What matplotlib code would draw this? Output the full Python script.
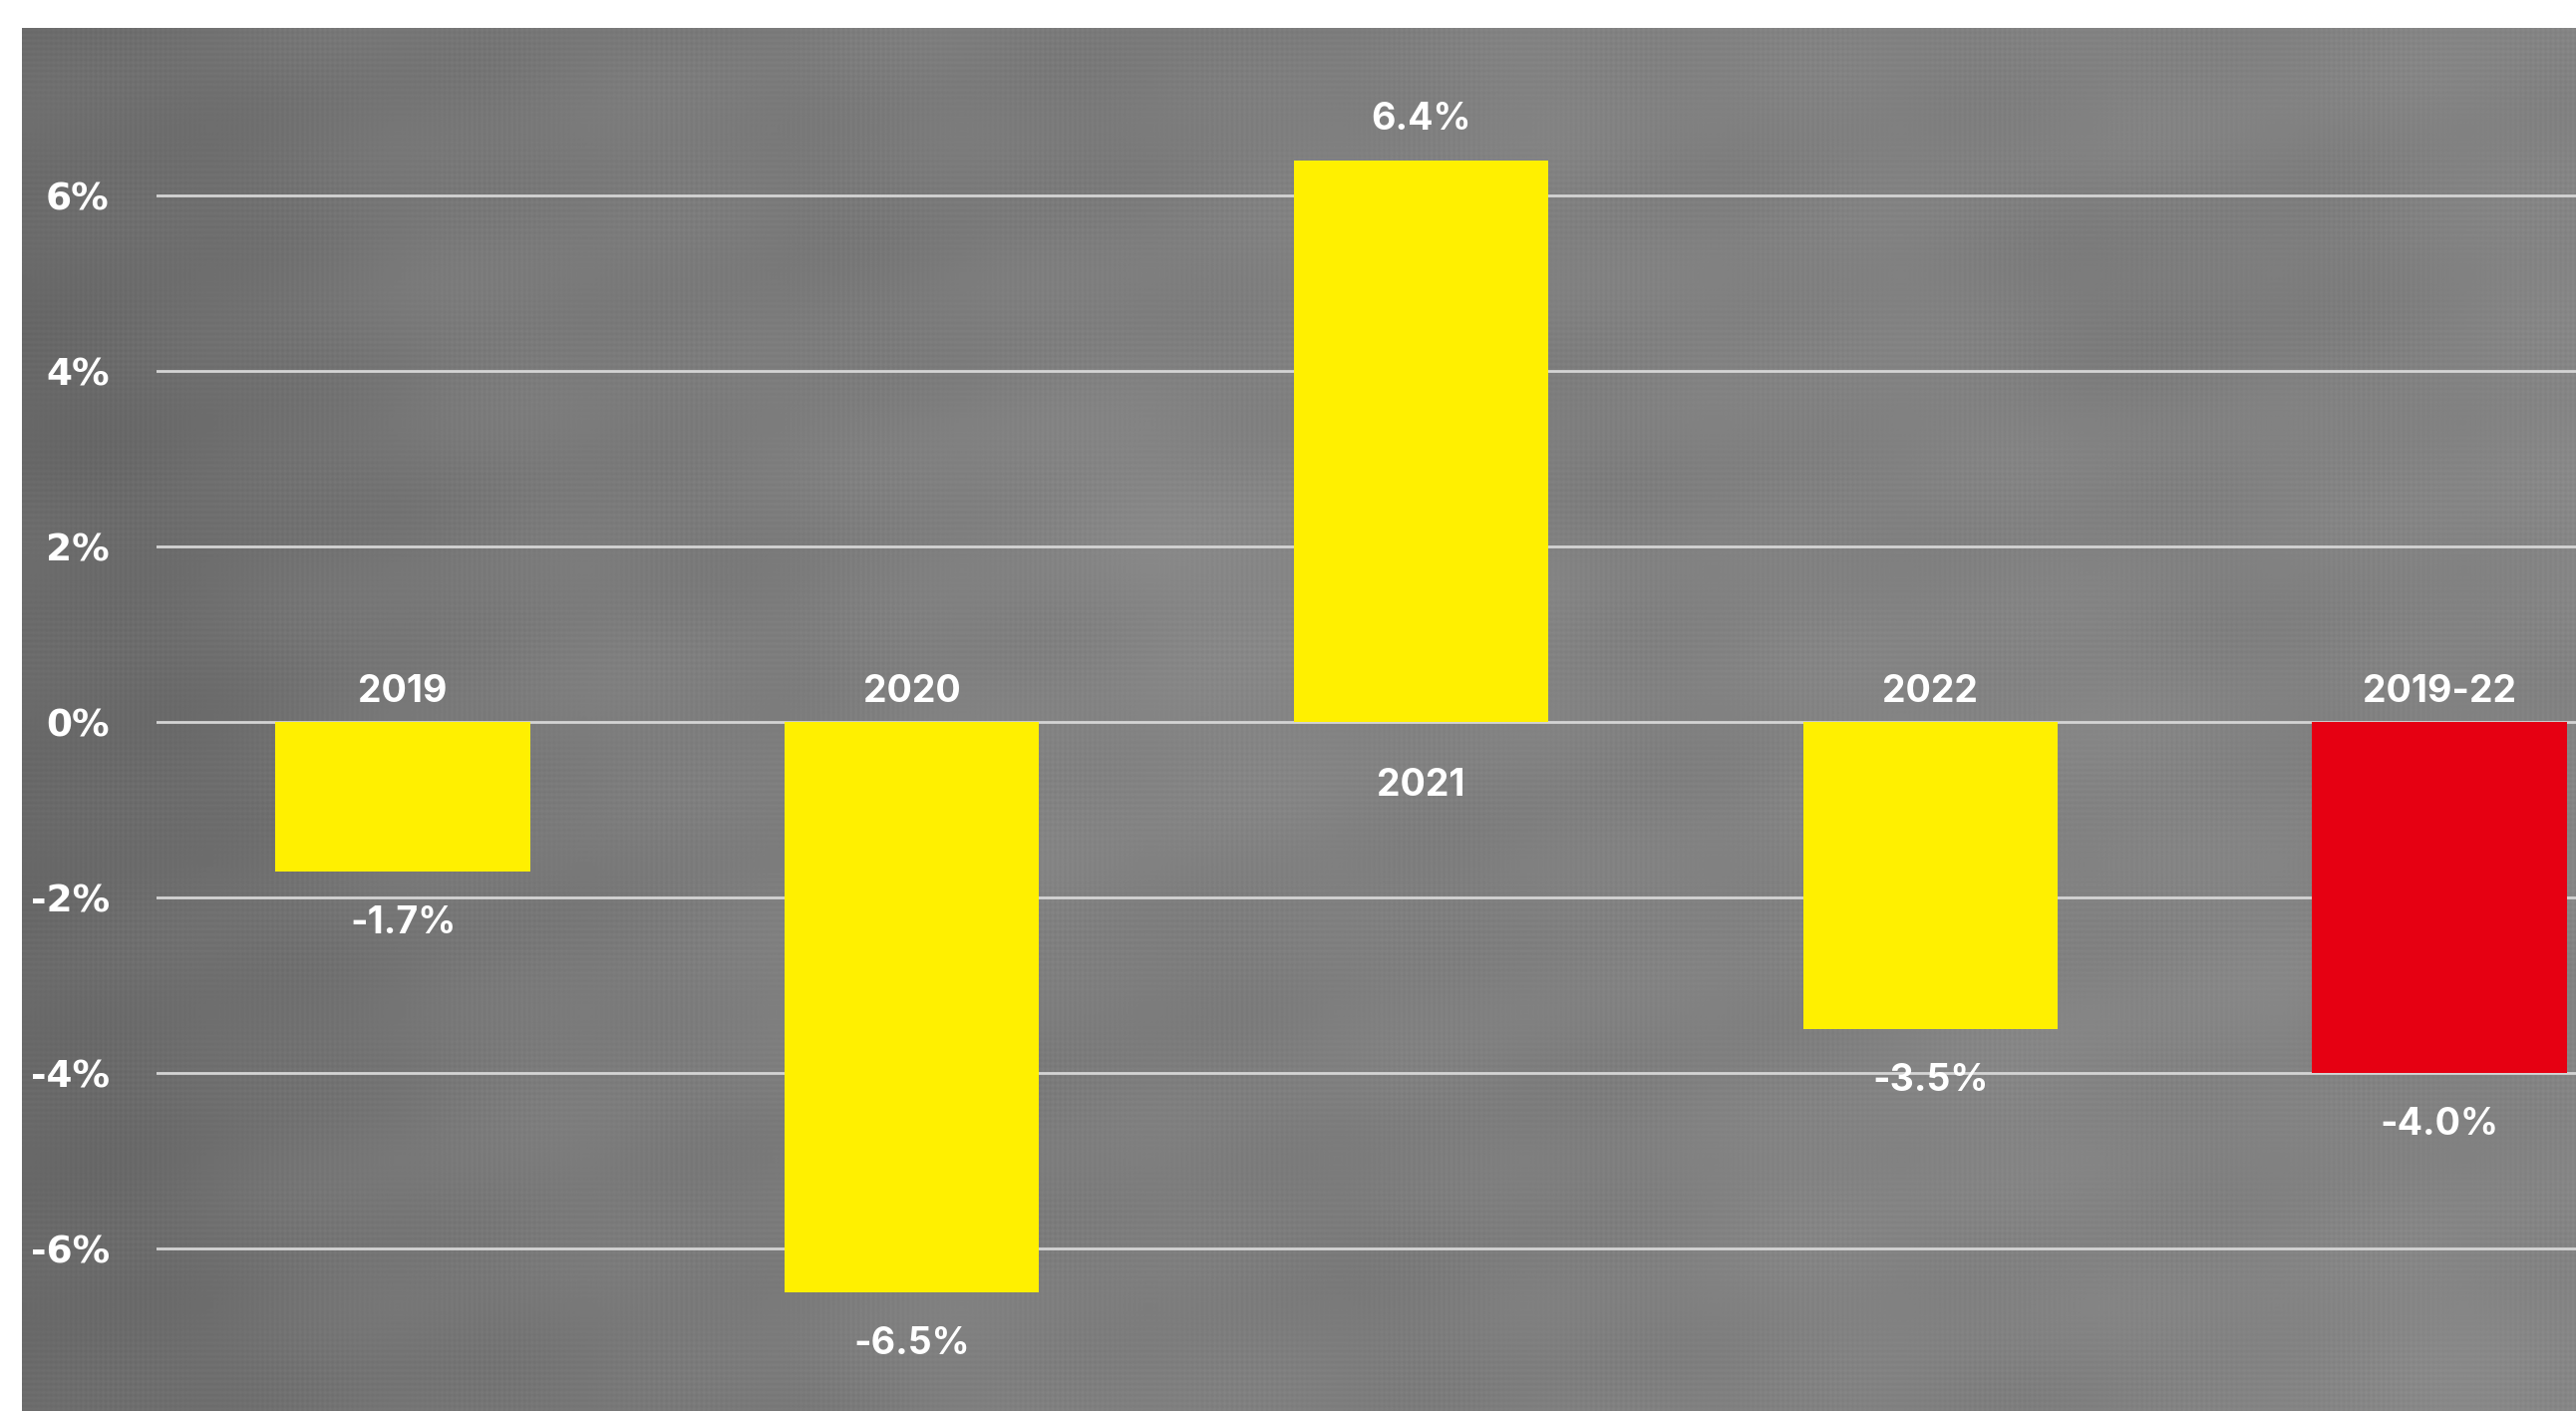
import numpy as np
import matplotlib
matplotlib.use("Agg")
import matplotlib.pyplot as plt

# annual change, per cent
categories = ["2019", "2020", "2021", "2022", "2019-22"]
values = [-1.7, -6.5, 6.4, -3.5, -4.0]
bar_colors = ["#FFF000", "#FFF000", "#FFF000", "#FFF000", "#E60012"]
yticks = [-6, -4, -2, 0, 2, 4, 6]

plt.rcParams["axes.unicode_minus"] = False

W, H, DPI = 2584, 1415, 100
fig = plt.figure(figsize=(W / DPI, H / DPI), dpi=DPI, facecolor="white")

# cloth-like grey backdrop
bg_left, bg_top = 22, 28
bw, bh = W - bg_left, H - bg_top
yy, xx = np.mgrid[0:bh, 0:bw].astype(float)
u, v = xx / bw, yy / bh
tex = 124 + 14 * (u - 0.35)
tex -= 12 * np.exp(-((u - 0.0) ** 2) / 0.02)
tex += 8 * np.exp(-(((u - 0.45) ** 2) / 0.03 + ((v - 0.45) ** 2) / 0.04))
tex -= 6 * np.exp(-(((u - 0.82) ** 2) / 0.01 + ((v - 0.2) ** 2) / 0.01))
tex += 3 * np.sin(u * 17 + np.sin(v * 9) * 2) * np.cos(v * 11 + u * 5)
tex += 2 * np.sin(u * 41 + v * 23) * np.sin(v * 37 - u * 13)
tex += 2.5 * np.sin(xx * 2 * np.pi / 5.0) * np.sin(xx / 60.0)
tex += 2.5 * np.sin(yy * 2 * np.pi / 5.5) * np.sin(yy / 47.0 + 1)
tex = np.clip(tex, 0, 255) / 255.0
bg = fig.add_axes([bg_left / W, 0, bw / W, bh / H])
bg.imshow(tex, cmap="gray", vmin=0, vmax=1, aspect="auto", interpolation="bilinear")
bg.axis("off")

ax = fig.add_axes([157 / W, 0, 1 - 157 / W, bh / H])
ax.patch.set_alpha(0)
x = np.arange(len(categories))
ax.bar(x, values, width=0.5, color=bar_colors, zorder=3)

ax.set_xlim(-0.4836, 4.268)
ax.set_ylim(-7.85, 7.91)
ax.set_yticks(yticks)
ax.set_yticklabels([f"{t}%" for t in yticks])
ax.yaxis.grid(True, color="#d4d4d4", linewidth=2, zorder=1)
ax.set_xticks([])
ax.tick_params(axis="y", length=0, pad=34, labelcolor="white", labelsize=27)
for lbl in ax.get_yticklabels():
    lbl.set_family(["Liberation Sans Narrow", "DejaVu Sans"])
    lbl.set_fontweight("bold")
for s in ax.spines.values():
    s.set_visible(False)

label_font = dict(color="white", fontsize=27, fontweight="bold",
                  family=["Inter", "DejaVu Sans"], ha="center", va="baseline",
                  textcoords="offset pixels")
for xi, val, cat in zip(x, values, categories):
    if val < 0:
        ax.annotate(f"{val:.1f}%", (xi, val), xytext=(0, -62), **label_font)
        ax.annotate(cat, (xi, 0), xytext=(0, 20), **label_font)
    else:
        ax.annotate(f"{val:.1f}%", (xi, val), xytext=(0, 31), **label_font)
        ax.annotate(cat, (xi, 0), xytext=(0, -74), **label_font)

fig.savefig("out.png", dpi=DPI, facecolor="white")
